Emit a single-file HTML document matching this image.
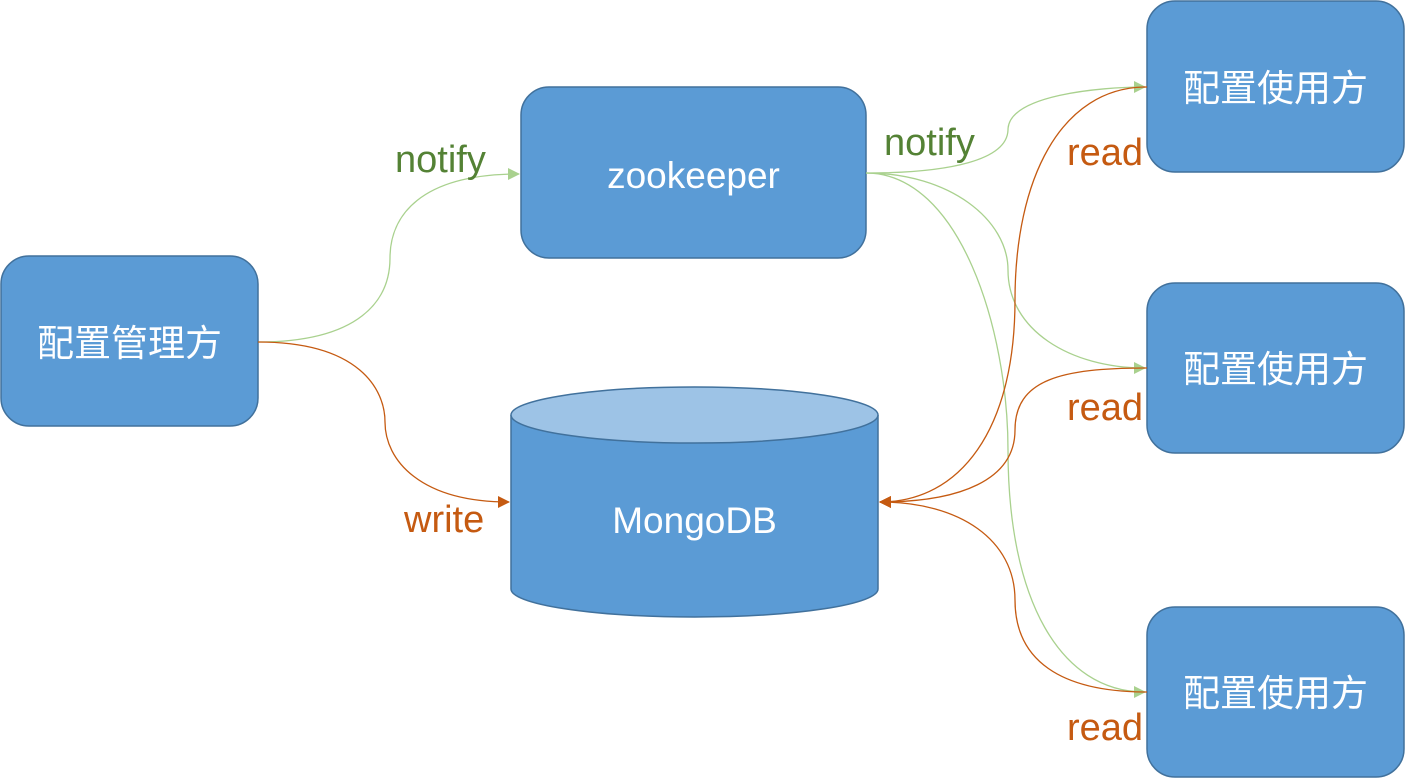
<!DOCTYPE html>
<html><head><meta charset="utf-8"><style>
html,body{margin:0;padding:0;background:#fff;}
svg{display:block;}
.cn{font-family:"Liberation Sans","Noto Sans CJK SC",sans-serif;fill:#fff;font-size:37px;}
.en{font-family:"Liberation Sans","Noto Sans CJK SC",sans-serif;}
</style></head><body>
<svg width="1405" height="779" viewBox="0 0 1405 779" xmlns="http://www.w3.org/2000/svg">
<defs>
<marker id="g" markerWidth="12" markerHeight="12" refX="11" refY="6" orient="auto" markerUnits="userSpaceOnUse"><path d="M0,0 L12,6 L0,12 z" fill="#a9d18e"/></marker>
<marker id="o" markerWidth="12" markerHeight="12" refX="11" refY="6" orient="auto" markerUnits="userSpaceOnUse"><path d="M0,0 L12,6 L0,12 z" fill="#c55a11"/></marker>
</defs>
<g fill="#5b9bd5" stroke="#41719c" stroke-width="1.5">
<rect x="1" y="256" width="257" height="170" rx="28"/>
<rect x="521" y="87" width="345" height="171" rx="28"/>
<rect x="1147" y="1" width="257" height="171" rx="28"/>
<rect x="1147" y="283" width="257" height="170" rx="28"/>
<rect x="1147" y="607" width="257" height="170" rx="28"/>
<path d="M511,415 L511,589 A183.5,28 0 0 0 878,589 L878,415"/>
<ellipse cx="694.5" cy="415" rx="183.5" ry="28" fill="#9dc3e6"/>
</g>
<g fill="none" stroke-width="1.3">
<path d="M258,342 C360,342 390,300 390,258 C390,216 420,174 519,174" stroke="#a9d18e" marker-end="url(#g)"/>
<path d="M258,342 C360,342 385,390 385,422 C385,460 420,502 509,502" stroke="#c55a11" marker-end="url(#o)"/>
<path d="M866,173 C950,173 1007,160 1008,130 C1008,95 1100,87 1145,87" stroke="#a9d18e" marker-end="url(#g)"/>
<path d="M866,173 C950,173 1008,220 1008,270 C1008,330 1070,368 1145,368" stroke="#a9d18e" marker-end="url(#g)"/>
<path d="M866,173 C960,173 1008,330 1008,450 C1008,600 1060,692 1145,692" stroke="#a9d18e" marker-end="url(#g)"/>
<path d="M1147,87 C1060,87 1015,180 1015,300 C1015,430 960,502 880,502" stroke="#c55a11" marker-end="url(#o)"/>
<path d="M1147,368 C1060,368 1015,380 1015,430 C1015,480 960,502 880,502" stroke="#c55a11" marker-end="url(#o)"/>
<path d="M1147,692 C1060,692 1015,660 1015,600 C1015,540 960,502 880,502" stroke="#c55a11" marker-end="url(#o)"/>
</g>
<text class="cn" x="129.5" y="356" text-anchor="middle">配置管理方</text>
<text class="cn" x="1275.5" y="101" text-anchor="middle">配置使用方</text>
<text class="cn" x="1275.5" y="382" text-anchor="middle">配置使用方</text>
<text class="cn" x="1275.5" y="706" text-anchor="middle">配置使用方</text>
<text class="en" x="693.5" y="188" text-anchor="middle" font-size="37" fill="#fff">zookeeper</text>
<text class="en" x="694.5" y="533" text-anchor="middle" font-size="37" fill="#fff">MongoDB</text>
<g class="en" font-size="38">
<text x="395" y="172" fill="#548235">notify</text>
<text x="884" y="155" fill="#548235">notify</text>
<text x="404" y="532" fill="#c55a11">write</text>
<text x="1067" y="165" fill="#c55a11">read</text>
<text x="1067" y="420" fill="#c55a11">read</text>
<text x="1067" y="740" fill="#c55a11">read</text>
</g>
</svg>
</body></html>
